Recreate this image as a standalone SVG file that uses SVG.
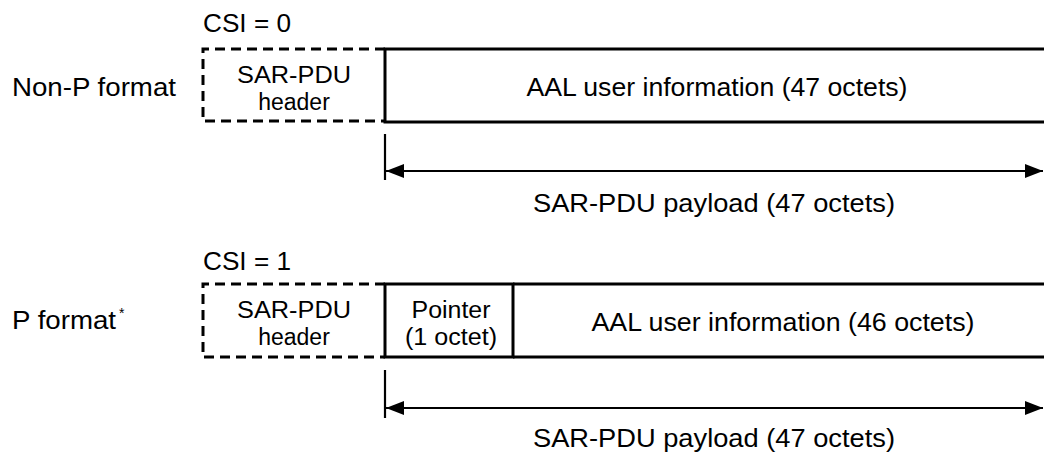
<svg xmlns="http://www.w3.org/2000/svg" width="1044" height="455" viewBox="0 0 1044 455">
  <style>
    text { font-family: "Liberation Sans", Arial, Helvetica, sans-serif; font-size: 25px; fill: #000; }
    .mid { text-anchor: middle; }
    .cell { font-size: 23px; }
    .dash { fill: none; stroke: #000; stroke-width: 3; stroke-dasharray: 10 6; }
    .solid { fill: none; stroke: #000; stroke-width: 3; }
    .dim { fill: none; stroke: #000; stroke-width: 2.2; }
  </style>
  <defs>
    <marker id="ah" viewBox="0 0 18 14" refX="18" refY="7" markerWidth="18" markerHeight="14" markerUnits="userSpaceOnUse" orient="auto-start-reverse">
      <path d="M0,0 L18,7 L0,14 Z" fill="#000"/>
    </marker>
  </defs>
  <rect width="1044" height="455" fill="#fff"/>

  <!-- Non-P format -->
  <g id="label-nonp">
    <text x="12" y="96" textLength="164" lengthAdjust="spacingAndGlyphs">Non-P format</text>
    <text x="203" y="32" textLength="88" lengthAdjust="spacingAndGlyphs">CSI = 0</text>
  </g>
  <g id="nonp-header">
    <path class="dash" d="M385,49 H203 V121 H385"/>
    <text class="mid cell" x="294" y="83" textLength="114" lengthAdjust="spacingAndGlyphs">SAR-PDU</text>
    <text class="mid cell" x="294" y="110">header</text>
  </g>
  <g id="nonp-info">
    <path class="solid" d="M1044,49 H385 V122 H1044"/>
    <text class="mid" x="717" y="96" textLength="381" lengthAdjust="spacingAndGlyphs">AAL user information (47 octets)</text>
  </g>

  <!-- P format -->
  <g id="label-p">
    <text x="12" y="329" textLength="104" lengthAdjust="spacingAndGlyphs">P format</text>
    <text x="119" y="318" style="font-size:14px">*</text>
    <text x="203" y="270" textLength="88" lengthAdjust="spacingAndGlyphs">CSI = 1</text>
  </g>
  <g id="p-header">
    <path class="dash" d="M385,284 H203 V357 H385"/>
    <text class="mid cell" x="294" y="318" textLength="114" lengthAdjust="spacingAndGlyphs">SAR-PDU</text>
    <text class="mid cell" x="294" y="345">header</text>
  </g>
  <g id="p-pointer">
    <path class="solid" d="M513,284 H385 V357 H513 Z"/>
    <text class="mid cell" x="451" y="318" textLength="79" lengthAdjust="spacingAndGlyphs">Pointer</text>
    <text class="mid cell" x="451" y="345" textLength="92" lengthAdjust="spacingAndGlyphs">(1 octet)</text>
  </g>
  <g id="p-info">
    <path class="solid" d="M513,284 H1044 M513,357 H1044"/>
    <text class="mid" x="783" y="331" textLength="383" lengthAdjust="spacingAndGlyphs">AAL user information (46 octets)</text>
  </g>

  <!-- Connectors (dimension arrows) -->
  <g id="connectors">
    <line class="dim" x1="385" y1="134" x2="385" y2="180"/>
    <line class="dim" x1="386" y1="171" x2="1043" y2="171" marker-start="url(#ah)" marker-end="url(#ah)"/>
    <line class="dim" x1="385" y1="370" x2="385" y2="418"/>
    <line class="dim" x1="386" y1="408" x2="1043" y2="408" marker-start="url(#ah)" marker-end="url(#ah)"/>
  </g>
  <g id="payload-labels">
    <text x="533" y="212" textLength="362" lengthAdjust="spacingAndGlyphs">SAR-PDU payload (47 octets)</text>
    <text x="533" y="447" textLength="362" lengthAdjust="spacingAndGlyphs">SAR-PDU payload (47 octets)</text>
  </g>
</svg>
